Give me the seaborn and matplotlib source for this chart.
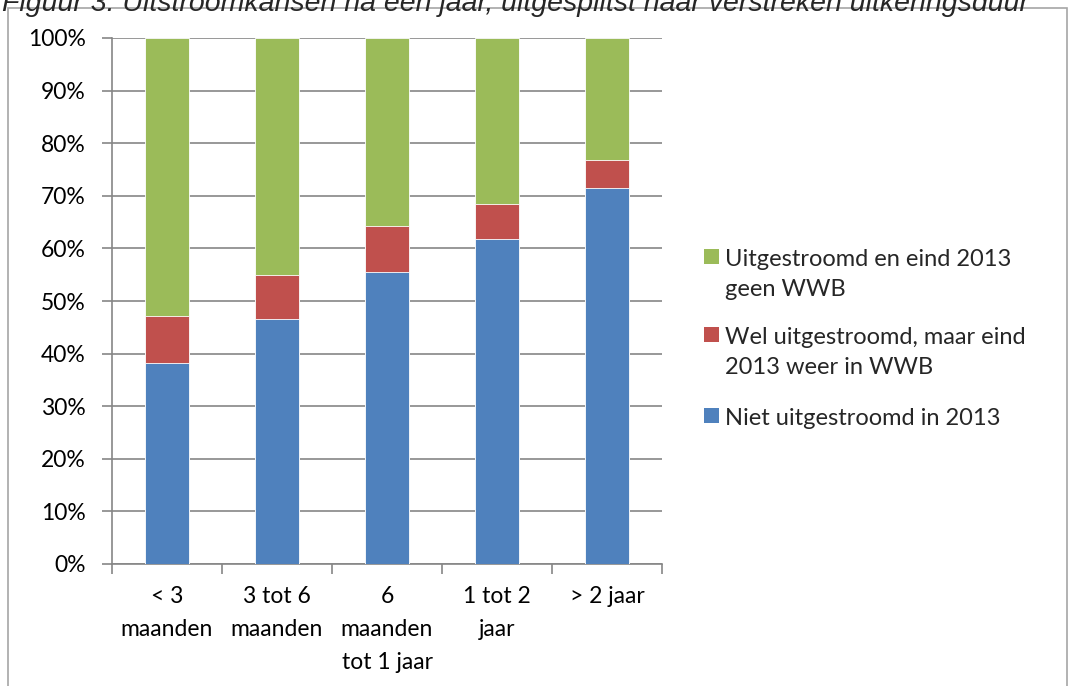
import seaborn as sns
import pandas as pd
import matplotlib.pyplot as plt
from matplotlib.patches import Rectangle

# data (percentages)
categories = ["< 3\nmaanden", "3 tot 6\nmaanden", "6\nmaanden\ntot 1 jaar", "1 tot 2\njaar", "> 2 jaar"]
niet_uit = [38.2, 46.5, 55.5, 61.7, 71.4]
weer_in = [9.0, 8.5, 8.8, 6.8, 5.5]
uit_geen = [52.8, 45.0, 35.7, 31.5, 23.1]

labels = ["Uitgestroomd en eind 2013\ngeen WWB",
          "Wel uitgestroomd, maar eind\n2013 weer in WWB",
          "Niet uitgestroomd in 2013"]
colors = ["#9BBB59", "#C0504D", "#4F81BD"]

sns.set_theme(style="white")
plt.rcParams['font.family'] = ['Lato', 'DejaVu Sans']

df = pd.DataFrame({"cat": categories, "blue": niet_uit, "red": weer_in, "green": uit_geen})
df["top_red"] = df["blue"] + df["red"]
df["top_green"] = df["top_red"] + df["green"]

W, H = 1070, 686
fig = plt.figure(figsize=(W / 100, H / 100), dpi=100)
ax = fig.add_axes([112 / W, 1 - 564 / H, 550 / W, 526 / H])

# stacked by overdrawing cumulative totals
for col, c in zip(["top_green", "top_red", "blue"], colors):
    sns.barplot(data=df, x="cat", y=col, color=c, width=0.4, ax=ax,
                saturation=1, edgecolor="white", linewidth=0.6, zorder=3)

ax.set_ylim(0, 100)
ax.set_xlim(-0.5, 4.5)
ax.set_yticks(range(0, 101, 10))
ax.set_yticklabels([f"{v}%" for v in range(0, 101, 10)], fontsize=16.5)
ax.set_xlabel("")
ax.set_ylabel("")
ax.grid(axis="y", color="#868686", linewidth=1.2, zorder=0)
ax.set_axisbelow(True)

for s in ["top", "right"]:
    ax.spines[s].set_visible(False)
for s in ["left", "bottom"]:
    ax.spines[s].set_color("#868686")
    ax.spines[s].set_linewidth(1.2)

ax.tick_params(axis="y", which="major", left=True, length=7, color="#868686",
               width=1.2, pad=12, labelcolor="black")
ax.set_xticks(range(len(categories)))
ax.set_xticklabels(categories, fontsize=16.5, linespacing=1.7, va="top")
ax.tick_params(axis="x", which="major", bottom=False, pad=10, labelcolor="black")
ax.set_xticks([i - 0.5 for i in range(len(categories) + 1)], minor=True)
ax.tick_params(axis="x", which="minor", bottom=True, length=7, color="#868686", width=1.2)

# legend, Excel style: marker aligned with first text line
legend_y = [257, 335, 416]
for lab, c, y in zip(labels, colors, legend_y):
    fig.patches.append(Rectangle((704 / W, 1 - (y + 7) / H), 15 / W, 15 / H,
                                 transform=fig.transFigure, facecolor=c, edgecolor="none"))
    fig.text(725 / W, 1 - (y - 8) / H, lab, fontsize=17, ha="left", va="top",
             linespacing=1.55)

# outer chart border and clipped caption
fig.patches.append(Rectangle((8 / W, -0.01), 1059 / W, 1 - 8 / H + 0.01,
                             transform=fig.transFigure, fill=False,
                             edgecolor="#A6A6A6", linewidth=1.2))
fig.text(0.002, 1 - 11 / H, "Figuur 3: Uitstroomkansen na een jaar, uitgesplitst naar verstreken uitkeringsduur",
         fontsize=20.5, style="italic", family=["Liberation Sans", "DejaVu Sans"],
         ha="left", va="baseline")

fig.savefig("out.png", dpi=100)
